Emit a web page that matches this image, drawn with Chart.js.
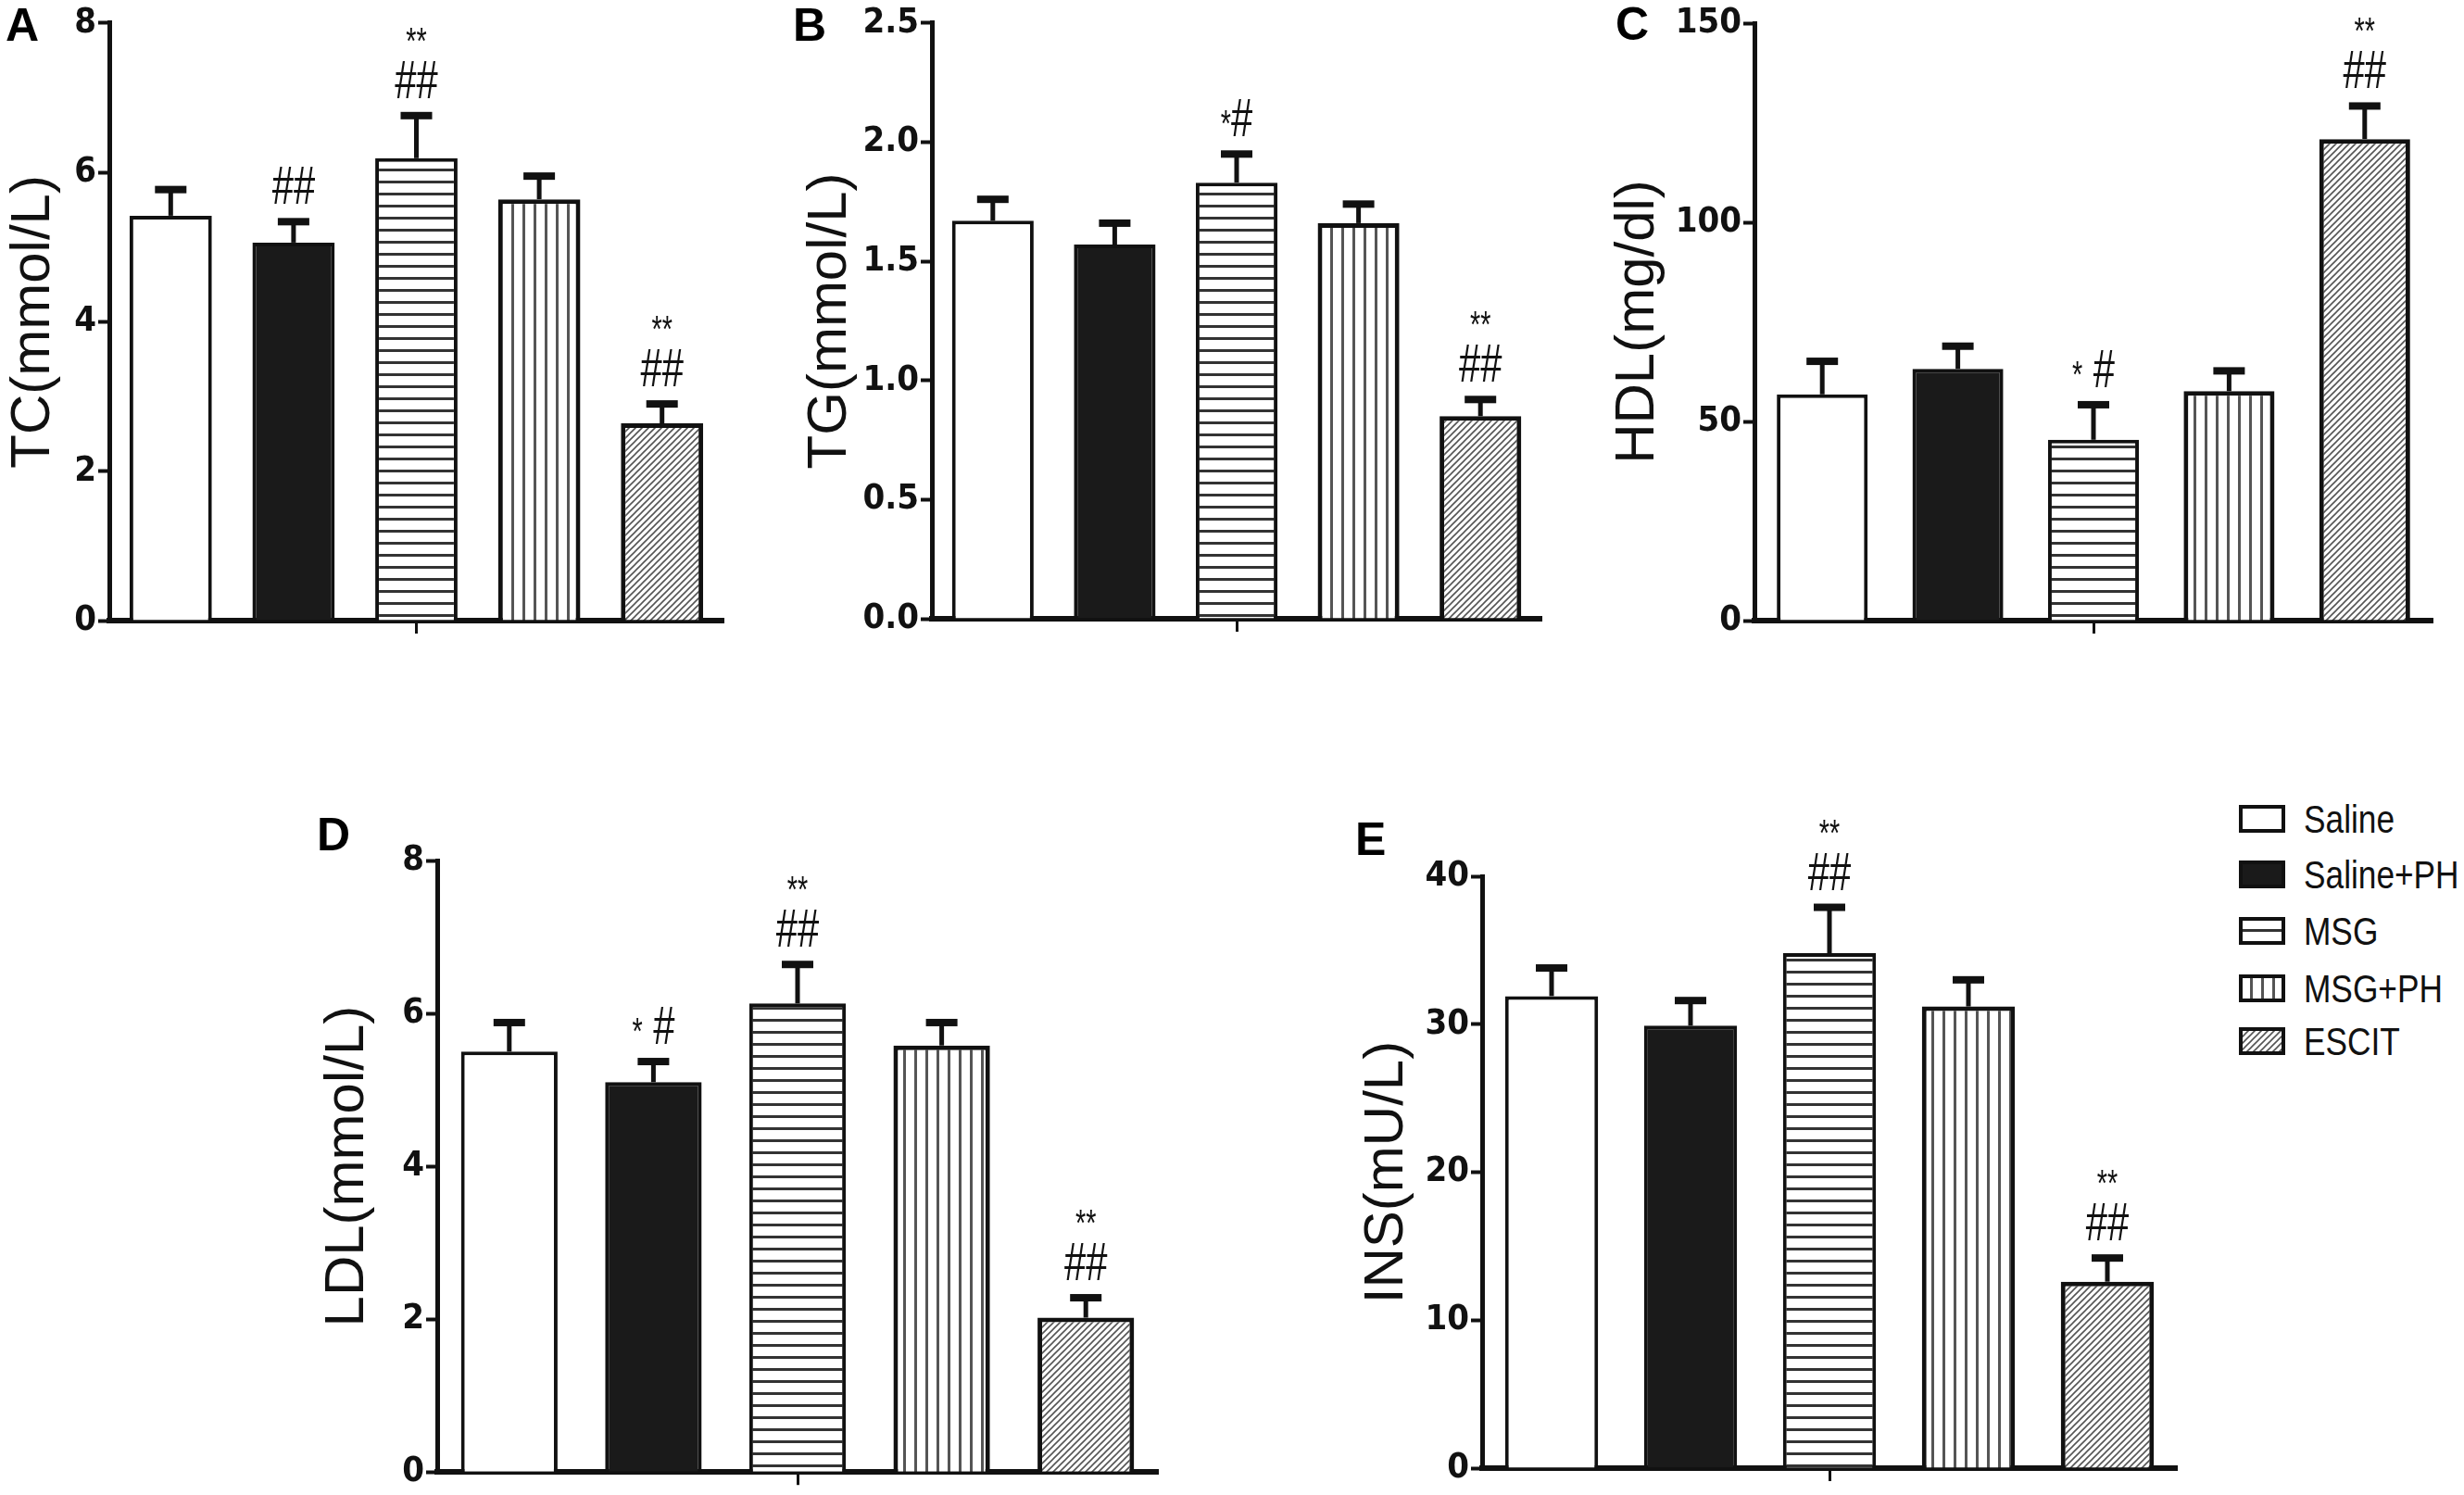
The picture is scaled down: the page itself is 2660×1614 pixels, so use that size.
<!DOCTYPE html>
<html>
<head>
<meta charset="utf-8">
<script src="https://cdn.jsdelivr.net/npm/chart.js@4.4.1/dist/chart.umd.min.js"></script>
<style>
  body { margin: 0; background: #fff; width: 2660px; height: 1614px; position: relative; overflow: hidden; }
  canvas.panel { position: absolute; }
  .letter { position: absolute; font: bold 50px "Liberation Sans", Arial, sans-serif; line-height: 50px; color: #000; }
  .row { position: absolute; left: 2417px; height: 50px; display: flex; align-items: center; }
  .row span { margin-left: 20px; font: 43px "Liberation Sans", Arial, sans-serif; color: #111; white-space: nowrap; display: inline-block; transform: scaleX(0.82); transform-origin: left center; }
</style>
</head>
<body>
<div class="letter" style="left:6px;top:2px">A</div>
<div class="letter" style="left:856px;top:2px">B</div>
<div class="letter" style="left:1744px;top:1px">C</div>
<div class="letter" style="left:342px;top:876px">D</div>
<div class="letter" style="left:1463px;top:881px">E</div>

<canvas class="panel" id="tc" width="800" height="730" style="left:0px;top:0px"></canvas>
<canvas class="panel" id="tg" width="820" height="730" style="left:860px;top:0px"></canvas>
<canvas class="panel" id="hdl" width="928" height="730" style="left:1732px;top:0px"></canvas>
<canvas class="panel" id="ldl" width="931" height="774" style="left:339px;top:840px"></canvas>
<canvas class="panel" id="ins" width="909" height="774" style="left:1461px;top:840px"></canvas>

<script>
// groups, same order in every panel
const groups = ["Saline", "Saline+PH", "MSG", "MSG+PH", "ESCIT"];

// A - TC
const tcMean = [5.42, 5.06, 6.19, 5.64, 2.64];
const tcSem = [0.35, 0.28, 0.57, 0.31, 0.26];
const tcSig = ["", "##", "**\n##", "", "**\n##"];
const tcTicks = [0, 2, 4, 6, 8];
const tcTickLabels = ["0", "2", "4", "6", "8"];

// B - TG
const tgMean = [1.67, 1.57, 1.83, 1.66, 0.85];
const tgSem = [0.09, 0.09, 0.12, 0.08, 0.07];
const tgSig = ["", "", "*#", "", "**\n##"];
const tgTicks = [0, 0.5, 1, 1.5, 2, 2.5];
const tgTickLabels = ["0.0", "0.5", "1.0", "1.5", "2.0", "2.5"];

// C - HDL
const hdlMean = [56.8, 63.2, 45.4, 57.6, 120.9];
const hdlSem = [8.3, 5.7, 8.8, 5.1, 8.3];
const hdlSig = ["", "", "* #", "", "**\n##"];
const hdlTicks = [0, 50, 100, 150];
const hdlTickLabels = ["0", "50", "100", "150"];

// D - LDL
const ldlMean = [5.50, 5.10, 6.13, 5.58, 2.02];
const ldlSem = [0.38, 0.27, 0.51, 0.30, 0.26];
const ldlSig = ["", "* #", "**\n##", "", "**\n##"];
const ldlTicks = [0, 2, 4, 6, 8];
const ldlTickLabels = ["0", "2", "4", "6", "8"];

// E - INS
const insMean = [31.9, 29.9, 34.8, 31.2, 12.6];
const insSem = [1.9, 1.7, 3.1, 1.8, 1.6];
const insSig = ["", "", "**\n##", "", "**\n##"];
const insTicks = [0, 10, 20, 30, 40];
const insTickLabels = ["0", "10", "20", "30", "40"];

const condensed = '"DejaVu Sans Condensed", "Liberation Sans", sans-serif';
const regular = '"Liberation Sans", Arial, sans-serif';

function makeTile(w, h, draw) {
  const c = document.createElement("canvas");
  c.width = w; c.height = h;
  const g = c.getContext("2d");
  g.fillStyle = "#fff";
  g.fillRect(0, 0, w, h);
  draw(g);
  return c;
}

const tiles = {
  horiz: makeTile(13, 13, g => { g.fillStyle = "#333"; g.fillRect(0, 0, 13, 3); }),
  vert: makeTile(12, 12, g => { g.fillStyle = "#555"; g.fillRect(0, 0, 3, 12); }),
  diag: makeTile(7, 7, g => {
    g.strokeStyle = "#555"; g.lineWidth = 1.6;
    g.beginPath();
    g.moveTo(-1, 8); g.lineTo(8, -1);
    g.moveTo(-1, 1); g.lineTo(1, -1);
    g.moveTo(6, 8); g.lineTo(8, 6);
    g.stroke();
  })
};

function fills(ctx) {
  return [
    "#fff",
    "#1a1a1a",
    ctx.createPattern(tiles.horiz, "repeat"),
    ctx.createPattern(tiles.vert, "repeat"),
    ctx.createPattern(tiles.diag, "repeat")
  ];
}

// error bars and significance marks drawn over the bars
const errorBars = {
  id: "errorBars",
  afterDatasetsDraw(chart) {
    const { ctx } = chart;
    const ds = chart.data.datasets[0];
    const meta = chart.getDatasetMeta(0);
    const y = chart.scales.y;
    ctx.save();
    meta.data.forEach((bar, i) => {
      const x = bar.x;
      const top = y.getPixelForValue(ds.data[i]);
      const cap = y.getPixelForValue(ds.data[i] + ds.sem[i]);
      ctx.fillStyle = "#111";
      ctx.fillRect(x - 2.5, cap, 5, top - cap);
      ctx.fillRect(x - 17, cap - 4, 34, 8);

      const lines = ds.sig[i] ? ds.sig[i].split("\n") : [];
      let base = cap - 19;
      for (let k = lines.length - 1; k >= 0; k--) {
        drawMark(ctx, lines[k], x, base);
        base -= 48;
      }
    });
    ctx.restore();
  }
};

// '#' is tall and narrow, '*' small; squeeze horizontally like the original
const SQUEEZE = 0.72;
function drawMark(ctx, text, cx, base) {
  const parts = text.split("").map(ch => {
    const font = ch === "*" ? "40px " + regular : "58px " + regular;
    ctx.font = font;
    return { ch, font, w: ctx.measureText(ch).width };
  });
  const total = parts.reduce((s, p) => s + p.w, 0);
  ctx.save();
  ctx.translate(cx, base);
  ctx.scale(SQUEEZE, 1);
  let x = -total / 2;
  ctx.fillStyle = "#111";
  ctx.textAlign = "left";
  ctx.textBaseline = "alphabetic";
  parts.forEach(p => {
    ctx.font = p.font;
    ctx.fillText(p.ch, x, 0);
    x += p.w;
  });
  ctx.restore();
}

function makePanel(id, mean, sem, sig, ticks, tickLabels, title, yW, xH, padTop, padRight) {
  const el = document.getElementById(id);
  const ctx = el.getContext("2d");
  return new Chart(ctx, {
    type: "bar",
    data: {
      labels: groups,
      datasets: [{
        data: mean,
        sem: sem,
        sig: sig,
        backgroundColor: fills(ctx),
        borderColor: "#111",
        borderWidth: [4, 4, 4, 5, 5],
        borderSkipped: "bottom",
        categoryPercentage: 1,
        barPercentage: 0.67
      }]
    },
    options: {
      responsive: false,
      devicePixelRatio: 1,
      animation: false,
      layout: { padding: { top: padTop, right: padRight, left: 0, bottom: 0 } },
      plugins: { legend: { display: false }, tooltip: { enabled: false } },
      scales: {
        x: {
          type: "category",
          grid: {
            offset: false,
            drawOnChartArea: false,
            tickLength: 14,
            tickWidth: 3,
            tickColor: c => (c.index === 2 ? "#111" : "rgba(0,0,0,0)")
          },
          border: { display: true, color: "#111", width: 6 },
          ticks: { display: false },
          afterFit: s => { s.height = xH; }
        },
        y: {
          min: ticks[0],
          max: ticks[ticks.length - 1],
          afterBuildTicks: s => { s.ticks = ticks.map(v => ({ value: v })); },
          grid: { drawOnChartArea: false, tickLength: 12, tickWidth: 4, tickColor: "#111" },
          border: { display: true, color: "#111", width: 5 },
          ticks: {
            color: "#111",
            padding: 2,
            font: { family: condensed, size: 38, weight: "bold" },
            callback: (v, i) => tickLabels[i]
          },
          title: {
            display: true,
            text: title,
            color: "#111",
            padding: 0,
            font: { family: regular, size: 60, weight: "normal" }
          },
          afterFit: s => { s.width = yW; }
        }
      }
    },
    plugins: [errorBars]
  });
}

makePanel("tc", tcMean, tcSem, tcSig, tcTicks, tcTickLabels, "TC(mmol/L)", 118, 60, 23, 19);
makePanel("tg", tgMean, tgSem, tgSig, tgTicks, tgTickLabels, "TG(mmol/L)", 146, 62, 16, 16);
makePanel("hdl", hdlMean, hdlSem, hdlSig, hdlTicks, hdlTickLabels, "HDL(mg/dl)", 162, 60, 25, 34);
makePanel("ldl", ldlMean, ldlSem, ldlSig, ldlTicks, ldlTickLabels, "LDL(mmol/L)", 133, 21, 89, 20);
makePanel("ins", insMean, insSem, insSig, insTicks, insTickLabels, "INS(mU/L)", 139, 29, 106, 20);

// legend
const legendRows = [884, 944, 1005, 1067, 1124];
groups.forEach((name, i) => {
  const row = document.createElement("div");
  row.className = "row";
  row.style.top = (legendRows[i] - 25) + "px";
  const sw = document.createElement("canvas");
  sw.width = 50; sw.height = 30;
  const g = sw.getContext("2d");
  g.fillStyle = fills(g)[i];
  g.fillRect(0, 0, 50, 30);
  g.strokeStyle = "#111";
  g.lineWidth = 4;
  g.strokeRect(2, 2, 46, 26);
  row.appendChild(sw);
  const t = document.createElement("span");
  t.textContent = name;
  row.appendChild(t);
  document.body.appendChild(row);
});
</script>
</body>
</html>
